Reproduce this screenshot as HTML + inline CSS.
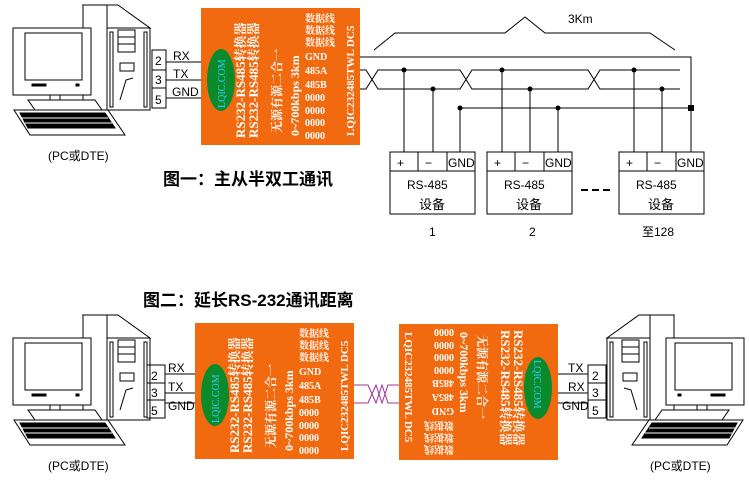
<!DOCTYPE html>
<html><head><meta charset="utf-8"><style>
html,body{margin:0;padding:0;background:#fff}
svg{display:block}
.s{font-family:"Liberation Sans","Noto Sans CJK SC",sans-serif}
.m{font-family:"Liberation Serif","Noto Serif CJK SC",serif;fill:#fff;font-weight:bold}
</style></head><body>
<svg width="749" height="492" viewBox="0 0 749 492" xmlns="http://www.w3.org/2000/svg">
<defs>
<g id="pc" fill="#fff" stroke="#000" stroke-width="1">
  <polygon points="83,5 118,5 150,28 107,28"/>
  <rect x="83" y="5" width="24" height="105"/>
  <rect x="107" y="28" width="43" height="82"/>
  <rect x="110" y="32" width="3" height="75"/><rect x="144" y="32" width="3" height="75"/>
  <rect x="118" y="30" width="17" height="22"/><line x1="118" y1="37" x2="135" y2="37"/><line x1="118" y1="44" x2="135" y2="44"/>
  <rect x="120" y="63" width="14" height="8"/>
  <polyline points="120,100 126,80 133,78"/>
  <rect x="13" y="28" width="78" height="67"/>
  <rect x="25" y="33" width="57" height="47"/>
  <rect x="50" y="95" width="10" height="10"/>
  <polygon points="28,100 95,100 102,110 35,110"/>
  <polygon points="14,110 108,110 125,135 30,135"/>
  <polygon points="20,113 105,113 115,128 28,128" fill="#000"/>
  <line x1="22" y1="118" x2="108" y2="118" stroke="#fff"/><line x1="25" y1="123" x2="112" y2="123" stroke="#fff"/>
  <rect x="32" y="84" width="14" height="2" fill="#000"/><rect x="76" y="84" width="3" height="2" fill="#000"/>
</g>
</defs>

<use href="#pc"/>
<use href="#pc" transform="translate(0,310)"/>
<use href="#pc" transform="translate(757,310) scale(-1,1)"/>
<text class="s" x="48" y="160" font-size="12">(PC或DTE)</text>
<text class="s" x="48" y="470" font-size="12">(PC或DTE)</text>
<text class="s" x="650" y="470" font-size="12">(PC或DTE)</text>

<!-- top connector -->
<g stroke="#000" fill="none">
<rect x="152" y="50" width="14" height="58"/><line x1="152" y1="70" x2="166" y2="70"/><line x1="152" y1="88" x2="166" y2="88"/>
<line x1="166" y1="62" x2="201" y2="62"/><line x1="166" y1="80" x2="201" y2="80"/><line x1="166" y1="98" x2="201" y2="98"/>
</g>
<g class="s" font-size="12"><text x="155" y="65">2</text><text x="155" y="84">3</text><text x="155" y="104">5</text>
<text x="173" y="60">RX</text><text x="173" y="78">TX</text><text x="172" y="96">GND</text></g>

<!-- top module -->
<g transform="translate(201,8)">
<rect width="159" height="137" fill="#f26a0f"/>
<ellipse cx="20" cy="72" rx="14" ry="31" fill="#0a8a2a"/>
<text transform="translate(24,100) rotate(-90)" font-size="10" fill="#3cf" font-family="Liberation Serif,serif">LQIC.COM</text>
<text class="m" transform="translate(44,130) rotate(-90)" font-size="13">RS232-RS485转换器</text>
<text class="m" transform="translate(57,130) rotate(-90)" font-size="13">RS232-RS485转换器</text>
<text class="m" transform="translate(80,125) rotate(-90)" font-size="12">无源有源二合一</text>
<text class="m" transform="translate(98,128) rotate(-90)" font-size="12">0~700kbps 3km</text>
<g class="m" font-size="10"><text x="104" y="14">数据线</text><text x="104" y="26">数据线</text><text x="104" y="38">数据线</text><text x="104" y="52">GND</text><text x="104" y="66">485A</text><text x="104" y="80">485B</text><text x="104" y="93">0000</text><text x="104" y="106">0000</text><text x="104" y="118">0000</text><text x="104" y="131">0000</text></g>
<text class="m" transform="translate(153,128) rotate(-90)" font-size="11">LQIC232485TWL DC5</text>
</g>

<!-- bus -->
<g stroke="#000" fill="none">
<polyline points="360,57 691,57 691,153"/>
<path d="M360,70 H366 L378,89 H460 L472,70 H588 L600,89 H680"/>
<path d="M360,89 H366 L378,70 H460 L472,89 H588 L600,70 H680"/>
<line x1="460" y1="108" x2="691" y2="108"/>
<line x1="404" y1="70" x2="404" y2="152"/><line x1="433" y1="89" x2="433" y2="152"/><line x1="460" y1="108" x2="460" y2="152"/>
<line x1="502" y1="70" x2="502" y2="152"/><line x1="530" y1="89" x2="530" y2="152"/><line x1="558" y1="108" x2="558" y2="152"/>
<line x1="634" y1="70" x2="634" y2="152"/><line x1="662" y1="89" x2="662" y2="152"/>
<path d="M374,50 L395,33 H505 L525,17 L545,33 H650 L675,50"/>
</g>
<g fill="#000"><circle cx="404" cy="70" r="2.5"/><circle cx="433" cy="89" r="2.5"/><circle cx="460" cy="108" r="2.5"/><circle cx="502" cy="70" r="2.5"/><circle cx="530" cy="89" r="2.5"/><circle cx="558" cy="108" r="2.5"/><circle cx="634" cy="70" r="2.5"/><circle cx="662" cy="89" r="2.5"/><rect x="688" y="105" width="6" height="6"/></g>
<text class="s" x="568" y="23" font-size="12">3Km</text>

<!-- devices -->
<g stroke="#000" fill="#fff">
<rect x="390" y="152" width="85" height="62"/><line x1="390" y1="171" x2="475" y2="171"/><line x1="418" y1="152" x2="418" y2="171"/><line x1="447" y1="152" x2="447" y2="171"/>
<rect x="487" y="152" width="85" height="62"/><line x1="487" y1="171" x2="572" y2="171"/><line x1="515" y1="152" x2="515" y2="171"/><line x1="544" y1="152" x2="544" y2="171"/>
<rect x="619" y="152" width="85" height="62"/><line x1="619" y1="171" x2="704" y2="171"/><line x1="647" y1="152" x2="647" y2="171"/><line x1="676" y1="152" x2="676" y2="171"/>
</g>
<g class="s" font-size="12">
<text x="397" y="167">+</text><text x="425" y="167">−</text><text x="448" y="167">GND</text>
<text x="494" y="167">+</text><text x="522" y="167">−</text><text x="545" y="167">GND</text>
<text x="626" y="167">+</text><text x="654" y="167">−</text><text x="677" y="167">GND</text>
<text x="407" y="189">RS-485</text><text x="504" y="189">RS-485</text><text x="636" y="189">RS-485</text>
<text x="419" y="209" font-size="13">设备</text><text x="516" y="209" font-size="13">设备</text><text x="648" y="209" font-size="13">设备</text>
<text x="429" y="236">1</text><text x="529" y="236">2</text><text x="642" y="236">至128</text>
</g>
<line x1="581" y1="190" x2="612" y2="190" stroke="#000" stroke-width="2" stroke-dasharray="7,4"/>
<text class="s" x="163" y="185" font-size="17" font-weight="bold">图一：主从半双工通讯</text>
<text class="s" x="143" y="306" font-size="17" font-weight="bold">图二：延长RS-232通讯距离</text>

<!-- bottom left connector -->
<g stroke="#000" fill="none">
<rect x="147" y="365" width="18" height="53"/><line x1="147" y1="383" x2="165" y2="383"/><line x1="147" y1="400" x2="165" y2="400"/>
<line x1="165" y1="374" x2="195" y2="374"/><line x1="165" y1="393" x2="195" y2="393"/><line x1="165" y1="403" x2="195" y2="403"/>
<rect x="588" y="365" width="18" height="53"/><line x1="588" y1="383" x2="606" y2="383"/><line x1="588" y1="400" x2="606" y2="400"/>
<line x1="558" y1="374" x2="588" y2="374"/><line x1="558" y1="393" x2="588" y2="393"/><line x1="558" y1="403" x2="588" y2="403"/>
</g>
<g class="s" font-size="12"><text x="151" y="380">2</text><text x="151" y="397">3</text><text x="151" y="415">5</text>
<text x="168" y="372">RX</text><text x="168" y="391">TX</text><text x="168" y="410">GND</text>
<text x="592" y="380">2</text><text x="592" y="397">3</text><text x="592" y="415">5</text>
<text x="568" y="372">TX</text><text x="568" y="391">RX</text><text x="562" y="410">GND</text></g>
<g stroke="#a0309a" fill="none">
<path d="M354,385 H368 L376,403 L382,385 L388,403 H399"/>
<path d="M354,403 H368 L376,385 L382,403 L388,385 H399"/>
</g>

<!-- bottom left module -->
<g transform="translate(195,323)">
<rect width="159" height="136" fill="#f26a0f"/>
<ellipse cx="20" cy="72" rx="14" ry="31" fill="#0a8a2a"/>
<text transform="translate(24,100) rotate(-90)" font-size="10" fill="#3cf" font-family="Liberation Serif,serif">LQIC.COM</text>
<text class="m" transform="translate(44,130) rotate(-90)" font-size="13">RS232-RS485转换器</text>
<text class="m" transform="translate(57,130) rotate(-90)" font-size="13">RS232-RS485转换器</text>
<text class="m" transform="translate(80,125) rotate(-90)" font-size="12">无源有源二合一</text>
<text class="m" transform="translate(98,128) rotate(-90)" font-size="12">0~700kbps 3km</text>
<g class="m" font-size="10"><text x="104" y="14">数据线</text><text x="104" y="26">数据线</text><text x="104" y="38">数据线</text><text x="104" y="52">GND</text><text x="104" y="66">485A</text><text x="104" y="80">485B</text><text x="104" y="93">0000</text><text x="104" y="106">0000</text><text x="104" y="118">0000</text><text x="104" y="131">0000</text></g>
<text class="m" transform="translate(153,128) rotate(-90)" font-size="11">LQIC232485TWL DC5</text>
</g>

<!-- bottom right module (rotated 180) -->
<g transform="translate(558,460) rotate(180)">
<rect width="159" height="136" fill="#f26a0f"/>
<ellipse cx="20" cy="72" rx="14" ry="31" fill="#0a8a2a"/>
<text transform="translate(24,100) rotate(-90)" font-size="10" fill="#3cf" font-family="Liberation Serif,serif">LQIC.COM</text>
<text class="m" transform="translate(44,130) rotate(-90)" font-size="13">RS232-RS485转换器</text>
<text class="m" transform="translate(57,130) rotate(-90)" font-size="13">RS232-RS485转换器</text>
<text class="m" transform="translate(80,125) rotate(-90)" font-size="12">无源有源二合一</text>
<text class="m" transform="translate(98,128) rotate(-90)" font-size="12">0~700kbps 3km</text>
<g class="m" font-size="10"><text x="104" y="14">数据线</text><text x="104" y="26">数据线</text><text x="104" y="38">数据线</text><text x="104" y="52">GND</text><text x="104" y="66">485A</text><text x="104" y="80">485B</text><text x="104" y="93">0000</text><text x="104" y="106">0000</text><text x="104" y="118">0000</text><text x="104" y="131">0000</text></g>
<text class="m" transform="translate(153,128) rotate(-90)" font-size="11">LQIC232485TWL DC5</text>
</g>
</svg>
</body></html>
